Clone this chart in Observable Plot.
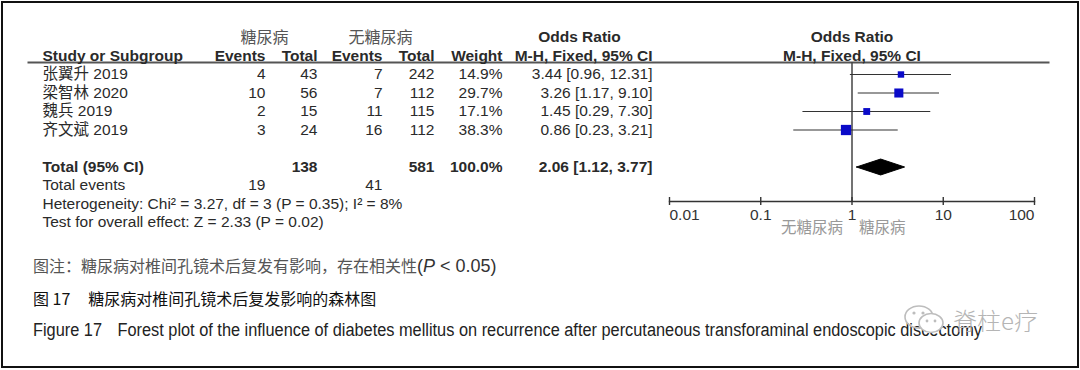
<!DOCTYPE html>
<html>
<head>
<meta charset="utf-8">
<script src="https://cdn.jsdelivr.net/npm/d3@7"></script>
<script src="https://cdn.jsdelivr.net/npm/@observablehq/plot@0.6"></script>
<style>
  body { margin: 0; background: #fff; }
  #root { position: relative; width: 1080px; height: 370px; overflow: hidden; background: #fff; }
  #border { position: absolute; left: 1px; top: 1px; width: 1078px; height: 367px; box-sizing: border-box; border: 2px solid #111; }
  .cap { position: absolute; left: 33px; white-space: nowrap; line-height: 22px; }
  #cap1 { top: 254px; font-family: "Noto Sans CJK SC", sans-serif; font-size: 16px; color: #555; }
  #cap1 .lat { font-family: "Liberation Sans Narrow", "Liberation Sans", Arial, sans-serif; font-size: 18px; color: #333; }
  #cap2 { top: 287px; font-family: "Noto Sans CJK SC", sans-serif; font-size: 16px; color: #111; }
  #cap3 { top: 319px; font-family: "Liberation Sans Narrow", "Liberation Sans", Arial, sans-serif; font-size: 18px; color: #222; transform-origin: 0 50%; }
  #wm { position: absolute; left: 902px; top: 302px; display: flex; align-items: center; color: #b5b5b5; font-family: "Noto Sans CJK SC", sans-serif; font-size: 24px; font-weight: 300; }
</style>
</head>
<body>
<div id="root">
  <div id="border"></div>
</div>
<script>
// ---------- data ----------
const studies    = ["张翼升 2019", "梁智林 2020", "魏兵 2019", "齐文斌 2019"];
const dmEvents   = [4, 10, 2, 3];
const dmTotals   = [43, 56, 15, 24];
const nonEvents  = [7, 7, 11, 16];
const nonTotals  = [242, 112, 115, 112];
const weights    = [14.9, 29.7, 17.1, 38.3];
const oddsRatios = [3.44, 3.26, 1.45, 0.86];
const ciLow      = [0.96, 1.17, 0.29, 0.23];
const ciHigh     = [12.31, 9.10, 7.30, 3.21];

const groupLabels   = ["糖尿病", "无糖尿病"];
const headerLabels  = ["Study or Subgroup", "Events", "Total", "Events", "Total", "Weight", "M-H, Fixed, 95% CI"];
const orTitle       = "Odds Ratio";
const totalLabel    = "Total (95% CI)";
const totalDm       = 138;
const totalNon      = 581;
const totalWeight   = "100.0%";
const pooledOR      = 2.06;
const pooledLow     = 1.12;
const pooledHigh    = 3.77;
const eventsLabel   = "Total events";
const totalEventsDm = 19;
const totalEventsNon = 41;
const hetText  = "Heterogeneity: Chi² = 3.27, df = 3 (P = 0.35); I² = 8%";
const testText = "Test for overall effect: Z = 2.33 (P = 0.02)";
const axisTicks = [0.01, 0.1, 1, 10, 100];
const favourLabels = ["无糖尿病", "糖尿病"];

const caption1 = "图注：糖尿病对椎间孔镜术后复发有影响，存在相关性";
const caption1Stat = ["P", " < 0.05"];
const caption2 = ["图 17", "糖尿病对椎间孔镜术后复发影响的森林图"];
const caption3 = ["Figure 17", "Forest plot of the influence of diabetes mellitus on recurrence after percutaneous transforaminal endoscopic discectomy"];
const watermark = "脊柱e疗";

// ---------- layout config ----------
const colX = {study: 42, ev1: 265, tot1: 317, ev2: 382, tot2: 434, weight: 502, or: 652, grp1: 264, grp2: 380, orHead: 579};
const ROW = {group: 0, head: 1, firstStudy: 2, total: 7, events: 8, het: 9, test: 10};
const rowScale = {domain: [0, 10], range: [37, 222], axis: null};
const fontFamily = "'Liberation Sans', Arial, 'Noto Sans CJK SC', sans-serif";
const FS = 15.5;
const fmt2 = v => v.toFixed(2);
const orText = (o, l, h) => `${fmt2(o)} [${fmt2(l)}, ${fmt2(h)}]`;

// ---------- table cells ----------
const rows = studies.map((s, i) => ({
  name: s, row: ROW.firstStudy + i,
  ev1: dmEvents[i], tot1: dmTotals[i], ev2: nonEvents[i], tot2: nonTotals[i],
  w: weights[i], or: oddsRatios[i], lo: ciLow[i], hi: ciHigh[i]
}));

const headCols = ["study", "ev1", "tot1", "ev2", "tot2", "weight", "or"];
const leftNormal = [
  ...rows.map(r => ({c: "study", r: r.row, t: r.name})),
  {c: "study", r: ROW.events, t: eventsLabel},
  {c: "study", r: ROW.het, t: hetText},
  {c: "study", r: ROW.test, t: testText}
];
const leftBold = [
  {c: "study", r: ROW.head, t: headerLabels[0]},
  {c: "study", r: ROW.total, t: totalLabel}
];
const endBold = [
  ...headCols.slice(1).map((c, i) => ({c, r: ROW.head, t: headerLabels[i + 1]})),
  {c: "tot1", r: ROW.total, t: String(totalDm)},
  {c: "tot2", r: ROW.total, t: String(totalNon)},
  {c: "weight", r: ROW.total, t: totalWeight},
  {c: "or", r: ROW.total, t: orText(pooledOR, pooledLow, pooledHigh)}
];
const endNormal = [
  ...rows.flatMap(r => [
    {c: "ev1", r: r.row, t: String(r.ev1)},
    {c: "tot1", r: r.row, t: String(r.tot1)},
    {c: "ev2", r: r.row, t: String(r.ev2)},
    {c: "tot2", r: r.row, t: String(r.tot2)},
    {c: "weight", r: r.row, t: r.w.toFixed(1) + "%"},
    {c: "or", r: r.row, t: orText(r.or, r.lo, r.hi)}
  ]),
  {c: "ev1", r: ROW.events, t: String(totalEventsDm)},
  {c: "ev2", r: ROW.events, t: String(totalEventsNon)}
];
const groupCells = [
  {c: "grp1", r: ROW.group, t: groupLabels[0]},
  {c: "grp2", r: ROW.group, t: groupLabels[1]}
];
const orHeadCells = [{c: "orHead", r: ROW.group, t: orTitle}];

const cellOpts = (anchor, weight, fill, size = FS) => ({
  x: d => colX[d.c], y: d => d.r, text: d => d.t,
  textAnchor: anchor, fontWeight: weight, fill, fontSize: size
});

const layerStyle = {position: "absolute", left: "0px", top: "0px", background: "transparent", fontFamily, overflow: "visible"};

const tablePlot = Plot.plot({
  width: 1080, height: 250,
  marginLeft: 28, marginRight: 32, marginTop: 62, marginBottom: 30,
  x: {type: "identity", axis: null},
  y: rowScale,
  style: layerStyle,
  marks: [
    Plot.frame({anchor: "top", stroke: "#555", strokeWidth: 2}),
    Plot.text(leftNormal, cellOpts("start", "normal", "#2a2a2a")),
    Plot.text(leftBold, cellOpts("start", "bold", "#2a2a2a")),
    Plot.text(endNormal, cellOpts("end", "normal", "#2a2a2a")),
    Plot.text(endBold, cellOpts("end", "bold", "#2a2a2a")),
    Plot.text(orHeadCells, cellOpts("middle", "bold", "#2a2a2a")),
    Plot.text(groupCells, cellOpts("middle", "normal", "#555", 16))
  ]
});

// ---------- forest plot ----------
const diamondHalf = 0.43; // half-height of pooled diamond, in row units
const diamond = [
  {x: pooledLow, y: ROW.total},
  {x: pooledOR, y: ROW.total - diamondHalf},
  {x: pooledHigh, y: ROW.total},
  {x: pooledOR, y: ROW.total + diamondHalf},
  {x: pooledLow, y: ROW.total}
];
const axisText = (ticks, anchor) => Plot.axisX({
  ticks, tickSize: 0, tickPadding: 7, textAnchor: anchor,
  tickFormat: d => String(d), fontSize: FS, fill: "#333", label: null
});

const forestPlot = Plot.plot({
  width: 1080, height: 250,
  marginLeft: 669, marginRight: 46, marginTop: 62, marginBottom: 49,
  x: {type: "log", domain: [axisTicks[0], axisTicks[axisTicks.length - 1]]},
  y: rowScale,
  r: {range: [0, 5.8]},
  style: layerStyle,
  marks: [
    Plot.ruleX([1], {stroke: "#444", strokeWidth: 1.5}),
    Plot.frame({anchor: "bottom", stroke: "#333", strokeWidth: 1.4}),
    Plot.axisX({ticks: axisTicks, tickSize: 8, dy: -4, stroke: "#333", strokeWidth: 1.4, fill: "none", label: null, tickFormat: () => ""}),
    axisText(axisTicks.slice(0, 1), "start"),
    axisText(axisTicks.slice(1, -1), "middle"),
    axisText(axisTicks.slice(-1), "end"),
    Plot.ruleY(rows, {y: "row", x1: "lo", x2: "hi", stroke: "#333", strokeWidth: 1.2}),
    Plot.dot(rows, {x: "or", y: "row", r: "w", symbol: "square", fill: "#0a0ac8", stroke: null}),
    Plot.line(diamond, {x: "x", y: "y", fill: "#000", stroke: "#000", strokeWidth: 1}),
    Plot.text([orTitle], {x: () => 1, y: () => ROW.group, text: d => d, fontWeight: "bold", fontSize: FS, fill: "#2a2a2a"}),
    Plot.text([headerLabels[6]], {x: () => 1, y: () => ROW.head, text: d => d, fontWeight: "bold", fontSize: FS, fill: "#2a2a2a"}),
    Plot.text([favourLabels[0]], {x: () => 1, frameAnchor: "bottom", dy: 31, dx: -9, text: d => d, textAnchor: "end", fontSize: FS, fill: "#999"}),
    Plot.text([favourLabels[1]], {x: () => 1, frameAnchor: "bottom", dy: 31, dx: 7, text: d => d, textAnchor: "start", fontSize: FS, fill: "#999"})
  ]
});

const root = document.getElementById("root");
root.appendChild(tablePlot);
root.appendChild(forestPlot);

// ---------- captions ----------
const c1 = document.createElement("div");
c1.className = "cap"; c1.id = "cap1";
c1.append(caption1);
const lat = document.createElement("span");
lat.className = "lat";
lat.append("(");
const pi = document.createElement("i"); pi.textContent = caption1Stat[0];
lat.append(pi, caption1Stat[1] + ")");
c1.append(lat);
root.appendChild(c1);

const c2 = document.createElement("div");
c2.className = "cap"; c2.id = "cap2";
const c2a = document.createElement("span"); c2a.textContent = caption2[0];
const c2b = document.createElement("span"); c2b.textContent = caption2[1]; c2b.style.marginLeft = "18px";
c2.append(c2a, c2b);
root.appendChild(c2);

const c3 = document.createElement("div");
c3.className = "cap"; c3.id = "cap3";
const c3a = document.createElement("span"); c3a.textContent = caption3[0];
const c3b = document.createElement("span"); c3b.textContent = caption3[1]; c3b.style.marginLeft = "17px";
c3.append(c3a, c3b);
root.appendChild(c3);
const c3w = c3.getBoundingClientRect().width;
c3.style.transform = `scaleX(${949 / c3w})`;

const wm = document.createElement("div");
wm.id = "wm";
wm.innerHTML = `<svg width="46" height="34" viewBox="0 0 44 34" style="margin-right:5px">
  <ellipse cx="16" cy="14" rx="14" ry="11" fill="none" stroke="#bdbdbd" stroke-width="1.6"/>
  <ellipse cx="28" cy="20" rx="12" ry="9.5" fill="#fff" stroke="#bdbdbd" stroke-width="1.6"/>
  <circle cx="11" cy="10" r="1.6" fill="#bdbdbd"/><circle cx="20" cy="10" r="1.6" fill="#bdbdbd"/>
  <circle cx="24" cy="18" r="1.4" fill="#bdbdbd"/><circle cx="32" cy="18" r="1.4" fill="#bdbdbd"/>
</svg>`;
const wmt = document.createElement("span"); wmt.textContent = watermark;
wm.append(wmt);
root.appendChild(wm);
</script>
</body>
</html>
